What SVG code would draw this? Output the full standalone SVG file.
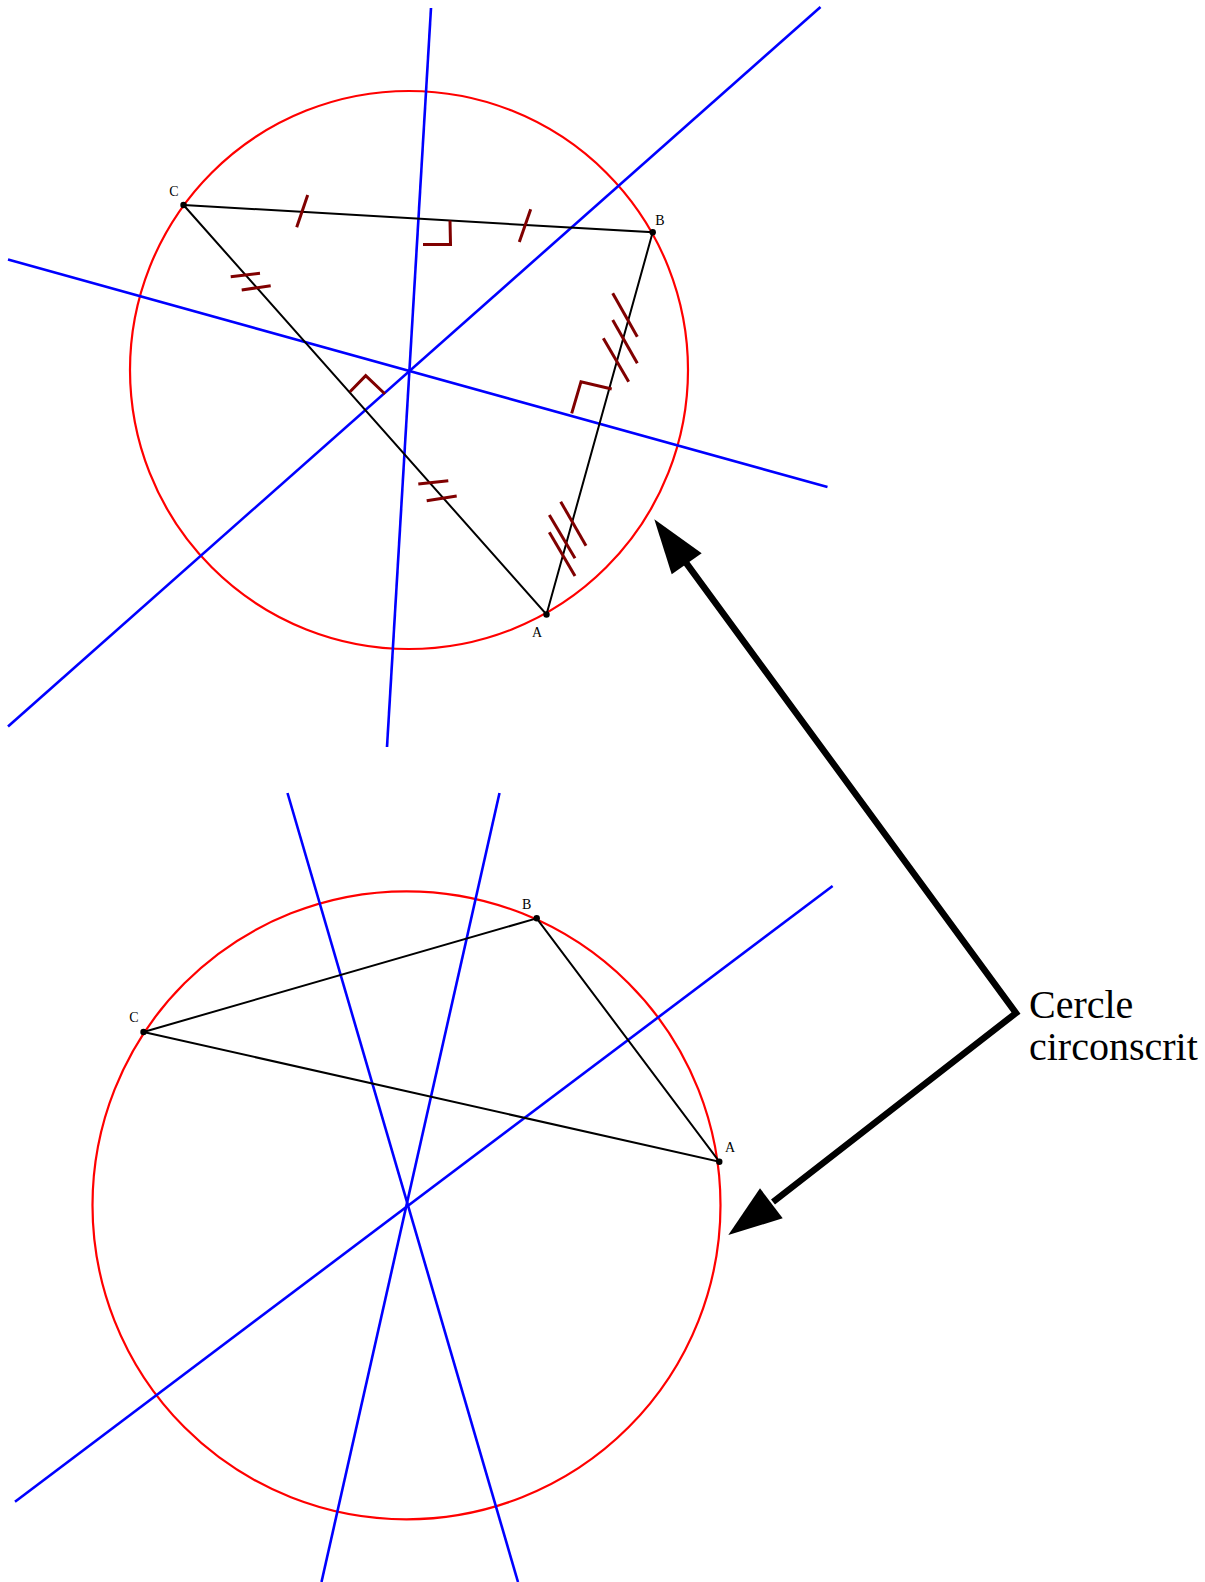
<svg xmlns="http://www.w3.org/2000/svg" width="1205" height="1582" viewBox="0 0 1205 1582">
<style>
.circ{fill:none;stroke:#ff0000;stroke-width:2.2}
.bis{fill:none;stroke:#0000ff;stroke-width:2.6}
.side{fill:none;stroke:#000;stroke-width:2}
.mark{fill:none;stroke:#800000;stroke-width:3}
.pt{fill:#000}
.lbl{font-family:"Liberation Serif",serif;font-size:14px;fill:#000;text-anchor:middle}
.cap{font-family:"Liberation Serif",serif;font-size:40px;fill:#000}
.arr{fill:none;stroke:#000;stroke-width:6.5;stroke-linejoin:miter}
</style>
<rect width="1205" height="1582" fill="#fff"/>
<g id="figure-top">
  <circle class="circ" cx="409" cy="370" r="279"/>
  <line class="bis" x1="431" y1="8" x2="387" y2="747"/>
  <line class="bis" x1="820.5" y1="7" x2="8" y2="726.5"/>
  <line class="bis" x1="8" y1="259.5" x2="827.5" y2="487"/>
  <polyline class="side" points="183.5,205 652.7,232.3 546.5,614.5 183.5,205"/>
  <g class="mark">
    <line x1="296.7" y1="227.3" x2="307.7" y2="195"/>
    <line x1="519.3" y1="242" x2="530.7" y2="209.3"/>
    <polyline points="450,220.5 450.5,244.5 423,244.5"/>
    <line x1="230.7" y1="276.7" x2="260" y2="273.3"/>
    <line x1="241.7" y1="290" x2="270.7" y2="285.7"/>
    <line x1="418.3" y1="484" x2="448.3" y2="480.7"/>
    <line x1="426.7" y1="500.7" x2="456.7" y2="496"/>
    <polyline points="350,391.7 365.7,375.7 385,394"/>
    <line x1="612.7" y1="293.3" x2="637.3" y2="336.7"/>
    <line x1="612.7" y1="320" x2="637.3" y2="363.3"/>
    <line x1="603.3" y1="338.3" x2="628.7" y2="381.7"/>
    <line x1="560.7" y1="501.7" x2="586" y2="545.7"/>
    <line x1="549.3" y1="515" x2="575" y2="558.3"/>
    <line x1="549.3" y1="532.3" x2="575" y2="576"/>
    <polyline points="571.7,413.3 581,381.7 611.7,389"/>
  </g>
  <circle class="pt" cx="183.5" cy="205" r="3.2"/>
  <circle class="pt" cx="652.7" cy="232.3" r="3.2"/>
  <circle class="pt" cx="546.5" cy="614.5" r="3.2"/>
  <text class="lbl" x="174" y="196">C</text>
  <text class="lbl" x="660" y="225">B</text>
  <text class="lbl" x="537" y="637">A</text>
</g>
<g id="figure-bottom">
  <circle class="circ" cx="406.5" cy="1205.3" r="314"/>
  <line class="bis" x1="287.5" y1="793" x2="518" y2="1582"/>
  <line class="bis" x1="499.5" y1="793" x2="321.5" y2="1582"/>
  <line class="bis" x1="832.6" y1="886" x2="15" y2="1501.7"/>
  <polyline class="side" points="143.5,1032 536.7,918.3 719.3,1161.7 143.5,1032"/>
  <circle class="pt" cx="143.5" cy="1032" r="3.2"/>
  <circle class="pt" cx="536.7" cy="918.3" r="3.2"/>
  <circle class="pt" cx="719.3" cy="1161.7" r="3.2"/>
  <text class="lbl" x="134" y="1022">C</text>
  <text class="lbl" x="526.7" y="909">B</text>
  <text class="lbl" x="730" y="1152">A</text>
</g>
<g id="label-cercle">
  <text class="cap" x="1029" y="1018">Cercle</text>
  <text class="cap" x="1029" y="1060">circonscrit</text>
</g>
<g id="connectors">
  <polyline class="arr" points="684,560 1016,1013 773,1202"/>
  <polygon points="654.3,519.3 701.7,553.3 671.7,574.3" fill="#000"/>
  <polygon points="728.3,1235 760,1188.3 782.7,1218.3" fill="#000"/>
</g>
</svg>
